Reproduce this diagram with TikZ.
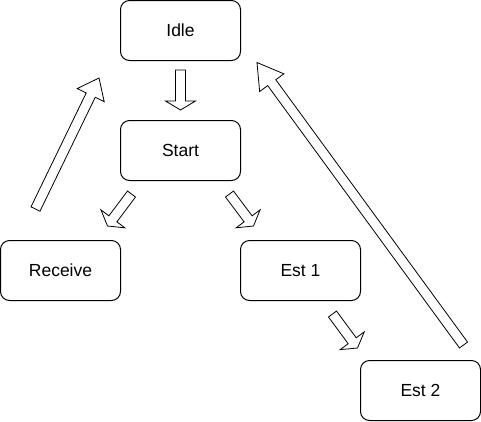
\documentclass[tikz,border=0pt]{standalone}
\usepackage{fontspec}
\setmainfont{Liberation Sans}
\usetikzlibrary{positioning,calc}

% hollow block arrow from #2 to #3, head length #1
\newcommand{\flexarrow}[3][9pt]{%
	\coordinate (fa-h) at ($(#3)!#1!(#2)$);
	\draw[flex] ($(#2)!5pt!90:(#3)$) -- ($(fa-h)!5pt!90:(#3)$) -- ($(fa-h)!15pt!90:(#3)$) -- (#3)
		-- ($(fa-h)!15pt!-90:(#3)$) -- ($(fa-h)!5pt!-90:(#3)$) -- ($(#2)!5pt!-90:(#3)$) -- cycle;
}

\begin{document}
\begin{tikzpicture}[x=1pt,y=-1pt,node distance=120pt and 120pt,on grid,
	box/.style={draw,line width=1pt,rounded corners=9pt,minimum width=120pt,minimum height=60pt,inner sep=0pt,font=\fontsize{17.5pt}{21pt}\selectfont},
	flex/.style={draw,fill=white,line width=0.8pt,line join=miter}]
	\useasboundingbox (0.5,0.5) rectangle (481.5,421.5);

	\node [box] (idle) at (181,31) {Idle};
	\node [box] (start) [below=of idle] {Start};
	\node [box] (receive) [below left=of start] {Receive};
	\node [box] (est1) [below right=of start] {Est 1};
	\node [box] (est2) [below right=of est1] {Est 2};

	\coordinate (a1) at ($(idle.south)+(0,9)$);
	\coordinate (b1) at ($(start.north)+(0,-10)$);
	\coordinate (a2) at ($(start.south)+(-49,13)$);
	\coordinate (b2) at ($(receive.north)+(47,-14)$);
	\coordinate (a3) at ($(start.south)+(49,13)$);
	\coordinate (b3) at ($(est1.north)+(-47,-14)$);
	\coordinate (a4) at ($(est1.south)+(32,13)$);
	\coordinate (b4) at ($(est2.north)+(-63,-12)$);
	\coordinate (a5) at ($(receive.north)+(-25,-31)$);
	\coordinate (b5) at ($(idle.south west)+(-21,17)$);
	\coordinate (a6) at ($(est2.north)+(43,-15)$);
	\coordinate (b6) at ($(idle.east)+(16,32)$);

	\flexarrow{a1}{b1}
	\flexarrow{a2}{b2}
	\flexarrow{a3}{b3}
	\flexarrow{a4}{b4}
	\flexarrow[19pt]{a5}{b5}
	\flexarrow[25pt]{a6}{b6}

\end{tikzpicture}
\end{document}
